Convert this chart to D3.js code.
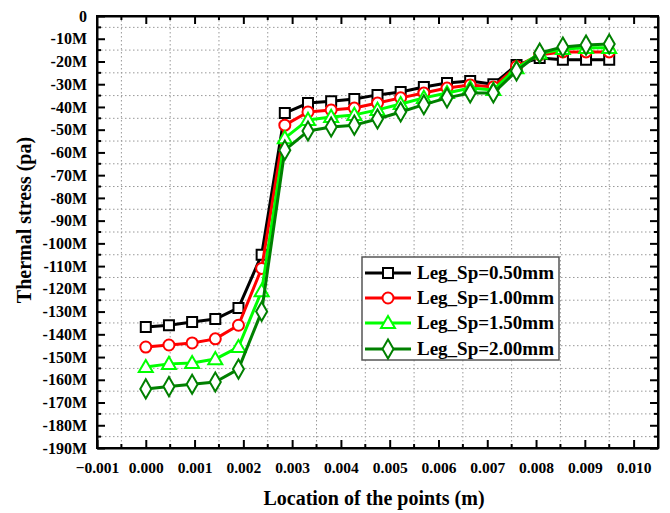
<!DOCTYPE html>
<html><head><meta charset="utf-8">
<script src="https://cdn.jsdelivr.net/npm/d3@7"></script>
<style>html,body{margin:0;padding:0;background:#fff;}svg{display:block;}</style>
</head><body>
<script>
const locations = [0, 0.000475, 0.00095, 0.001425, 0.0019, 0.002375, 0.00285, 0.003325, 0.0038, 0.004275, 0.00475, 0.005225, 0.0057, 0.006175, 0.00665, 0.007125, 0.0076, 0.008075, 0.00855, 0.009025, 0.0095];
// thermal stress in MPa (M)
const sp050 = [-136.8, -136, -134.6, -133.3, -128.4, -105, -42.7, -38.3, -37.5, -36.5, -34.7, -33.4, -31.2, -29.5, -28.6, -30, -21.5, -18.5, -19.2, -19.2, -19.2];
const sp100 = [-145.6, -144.7, -143.8, -142, -136, -111, -48, -42.2, -41.3, -40.5, -38.3, -36, -33.9, -31.7, -30.3, -31.2, -22.2, -17, -15.8, -15.8, -15.8];
const sp150 = [-154.4, -153, -152.6, -150.9, -145.6, -121, -53.7, -45.7, -44.4, -43.5, -41.3, -38.7, -36, -33.9, -31.7, -32.5, -23, -16.5, -14.5, -14, -14];
const sp200 = [-164, -163, -162, -161, -155.3, -130, -59, -50.6, -48.8, -48, -45.3, -42.2, -39, -36, -33.9, -33.9, -24.2, -16.3, -13.6, -12.8, -12.3];
const seriesNames = ["Leg_Sp=0.50mm", "Leg_Sp=1.00mm", "Leg_Sp=1.50mm", "Leg_Sp=2.00mm"];
const seriesColors = ["#000000", "#ff0000", "#00ff00", "#008000"];
const seriesSymbols = ["square", "circle", "triangle", "diamond"];
const xTicks = [-0.001, 0, 0.001, 0.002, 0.003, 0.004, 0.005, 0.006, 0.007, 0.008, 0.009, 0.010];
const yTicks = [0, -10, -20, -30, -40, -50, -60, -70, -80, -90, -100, -110, -120, -130, -140, -150, -160, -170, -180, -190];
const xTitle = "Location of the points (m)";
const yTitle = "Thermal stress (pa)";

const W = 670, H = 513;
const L = 97, R = 658, T = 16, B = 448;
const FONT = "'Liberation Serif','Times New Roman',serif";

const svg = d3.select("body").append("svg").attr("width", W).attr("height", H)
  .style("font-family", FONT).style("font-weight", "bold");

const x = d3.scaleLinear().domain([-0.001, 0.0105]).range([L, R]);
const y = d3.scaleLinear().domain([-190, 0]).range([B, T]);

// grid at minor positions
const xMinor = xTicks.map(t => t + 0.0005).filter(t => t < 0.0105);
const yMinor = yTicks.slice(0, -1).map(t => t - 5);
const grid = svg.append("g").attr("stroke", "#999").attr("stroke-width", 1).attr("stroke-dasharray", "1.5,2.5");
grid.selectAll("line.gx").data(xMinor).join("line").attr("class", "gx")
  .attr("x1", d => x(d)).attr("x2", d => x(d)).attr("y1", T).attr("y2", B);
grid.selectAll("line.gy").data(yMinor).join("line").attr("class", "gy")
  .attr("x1", L).attr("x2", R).attr("y1", d => y(d)).attr("y2", d => y(d));

// axes
const fmtY = d => d === 0 ? "0" : d + "M";
const fmtX = d3.format(".3f");
function styleAxis(g, fs) {
  g.selectAll("path.domain").attr("stroke", "#000").attr("stroke-width", 2);
  g.selectAll(".tick line").attr("stroke", "#000").attr("stroke-width", 2);
  g.selectAll(".tick text").attr("font-family", FONT).attr("font-weight", "bold").attr("font-size", fs).attr("fill", "#000");
}
const gxB = svg.append("g").attr("transform", `translate(0,${B})`)
  .call(d3.axisBottom(x).tickValues(xTicks).tickFormat(fmtX).tickSizeInner(-8).tickSizeOuter(0).tickPadding(14));
styleAxis(gxB, 15.5);
const gxT = svg.append("g").attr("transform", `translate(0,${T})`)
  .call(d3.axisTop(x).tickValues(xTicks.filter(t => t > -0.001)).tickFormat("").tickSizeInner(-8).tickSizeOuter(0));
styleAxis(gxT, 15);
const gyL = svg.append("g").attr("transform", `translate(${L},0)`)
  .call(d3.axisLeft(y).tickValues(yTicks).tickFormat(fmtY).tickSizeInner(-8).tickSizeOuter(0).tickPadding(10));
styleAxis(gyL, 16);
const gyR = svg.append("g").attr("transform", `translate(${R},0)`)
  .call(d3.axisRight(y).tickValues(yTicks).tickFormat("").tickSizeInner(-8).tickSizeOuter(0));
styleAxis(gyR, 15);
// minor ticks
const minor = svg.append("g").attr("stroke", "#000").attr("stroke-width", 2);
minor.selectAll("line.mxb").data(xMinor).join("line").attr("x1", d => x(d)).attr("x2", d => x(d)).attr("y1", B).attr("y2", B - 4);
minor.selectAll("line.mxt").data(xMinor).join("line").attr("x1", d => x(d)).attr("x2", d => x(d)).attr("y1", T).attr("y2", T + 4);
minor.selectAll("line.myl").data(yMinor).join("line").attr("x1", L).attr("x2", L + 4).attr("y1", d => y(d)).attr("y2", d => y(d));
minor.selectAll("line.myr").data(yMinor).join("line").attr("x1", R).attr("x2", R - 4).attr("y1", d => y(d)).attr("y2", d => y(d));
// frame
svg.append("rect").attr("x", L).attr("y", T).attr("width", R - L).attr("height", B - T)
  .attr("fill", "none").attr("stroke", "#000").attr("stroke-width", 2);

// symbols
const symTypes = { square: d3.symbolSquare, circle: d3.symbolCircle, triangle: d3.symbolTriangle, diamond: d3.symbolDiamond };
const symSizes = { square: 100, circle: 95, triangle: 85, diamond: 105 };
function drawSymbol(g, type, color) {
  const p = g.append("path").attr("d", d3.symbol().type(symTypes[type]).size(symSizes[type])())
    .attr("fill", "#fff").attr("stroke", color).attr("stroke-width", 2);
  if (type === "triangle") p.attr("transform", "translate(0,1)");
  return p;
}

const allSeries = [sp050, sp100, sp150, sp200];
const line = d3.line().x((d, i) => x(locations[i])).y(d => y(d));
allSeries.forEach((vals, si) => {
  const g = svg.append("g");
  g.append("path").attr("d", line(vals)).attr("fill", "none")
    .attr("stroke", seriesColors[si]).attr("stroke-width", 3).attr("stroke-linejoin", "round");
  vals.forEach((v, i) => {
    const mg = g.append("g").attr("transform", `translate(${x(locations[i])},${y(v)})`);
    drawSymbol(mg, seriesSymbols[si], seriesColors[si]);
  });
});

// legend
const lg = svg.append("g");
lg.append("rect").attr("x", 362).attr("y", 257).attr("width", 197).attr("height", 103)
  .attr("fill", "#fff").attr("stroke", "#555").attr("stroke-width", 1.5);
const rowY = [273, 298, 323, 349];
seriesNames.forEach((name, i) => {
  const ry = rowY[i];
  lg.append("line").attr("x1", 365).attr("x2", 411).attr("y1", ry).attr("y2", ry)
    .attr("stroke", seriesColors[i]).attr("stroke-width", 3);
  const mg = lg.append("g").attr("transform", `translate(388,${ry})`);
  drawSymbol(mg, seriesSymbols[i], seriesColors[i]);
  lg.append("text").attr("x", 417).attr("y", ry + 6).attr("font-size", 19).attr("fill", "#000").text(name);
});

// titles
svg.append("text").attr("x", 374).attr("y", 505).attr("text-anchor", "middle").attr("font-size", 20).text(xTitle);
svg.append("text").attr("transform", `translate(31,${220}) rotate(-90)`).attr("text-anchor", "middle").attr("font-size", 20).text(yTitle);
</script>
</body></html>
